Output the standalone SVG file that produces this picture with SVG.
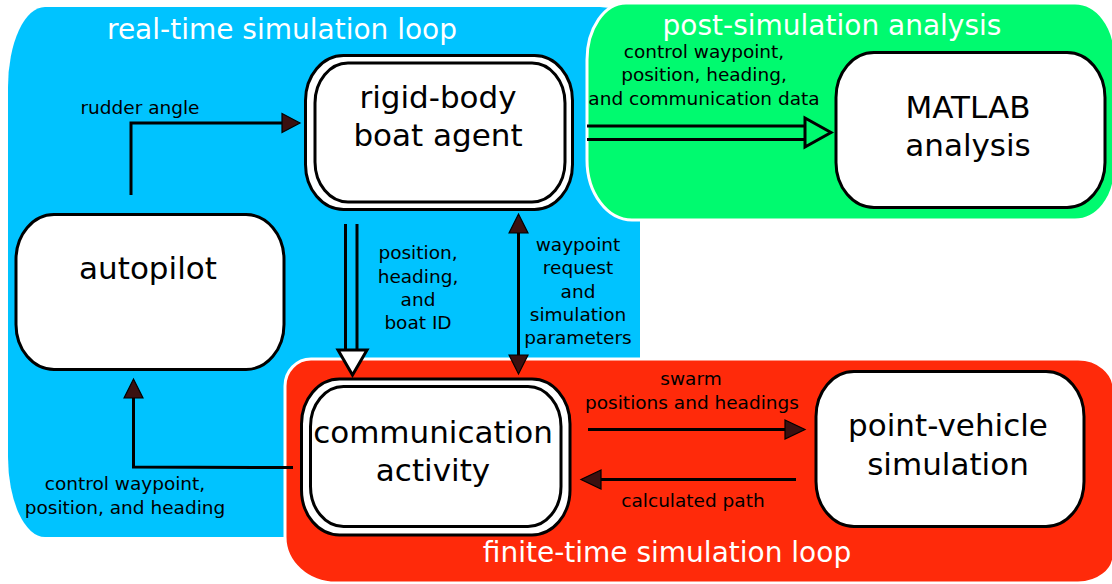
<svg xmlns="http://www.w3.org/2000/svg" width="1112" height="584" viewBox="0 0 1112 584">
<defs>
<style>
text{font-family:"DejaVu Sans","Liberation Sans",sans-serif;text-anchor:middle}
.title{font-size:28px;fill:#ffffff}
.node{font-size:31px;fill:#000}
.lbl{font-size:18.5px;fill:#000}
.box{fill:#ffffff;stroke:#000;stroke-width:3}
.ln{fill:none;stroke:#000;stroke-width:3}
.head{fill:#3a1010;stroke:#000;stroke-width:1.2}
.hollow{stroke:#000;stroke-width:3;stroke-linejoin:miter}
</style>
</defs>
<g id="regions">
<path id="real-time" d="M45,7 L600,7 A40,40 0 0 1 640,47 L640,537 L45,537 A37,80 0 0 1 8,457 L8,87 A37,80 0 0 1 45,7 Z" fill="#00c3ff"/>
<path id="post-sim" d="M626,3 L1075,3 A40,52 0 0 1 1115,55 L1115,170 A40,50 0 0 1 1075,220 L632,220 A45,60 0 0 1 587,160 L587,60 A39,57 0 0 1 626,3 Z" fill="#00fa6f" stroke="#ffffff" stroke-width="3"/>
<path id="finite-time" d="M311,359 L1078,359 A36,30 0 0 1 1114,389 L1114,555 A36,28 0 0 1 1078,583 L336,583 A51,46 0 0 1 285,537 L285,386 A26,27 0 0 1 311,359 Z" fill="#ff2a0a" stroke="#ffffff" stroke-width="3"/>
<text class="title" x="282" y="39">real-time simulation loop</text>
<text class="title" x="832" y="35">post-simulation analysis</text>
<text class="title" x="667" y="562">finite-time simulation loop</text>
</g>
<g id="connectors">
<path class="ln" d="M131,195 L131,123 L284,123"/>
<polygon class="head" points="282,113.5 300,123 282,132.5"/>
<text class="lbl" x="140" y="114">rudder angle</text>

<line class="ln" x1="587" y1="126" x2="806" y2="126"/>
<line class="ln" x1="587" y1="139.5" x2="806" y2="139.5"/>
<polygon class="hollow" fill="none" points="805,118 831,132.5 805,147"/>
<text class="lbl" x="704" y="58">control waypoint,</text>
<text class="lbl" x="704" y="81">position, heading,</text>
<text class="lbl" x="704" y="105">and communication data</text>

<line class="ln" x1="345.5" y1="224" x2="345.5" y2="351"/>
<line class="ln" x1="357" y1="224" x2="357" y2="351"/>
<polygon class="hollow" fill="#ffffff" points="338,350 367,350 352.5,375"/>
<text class="lbl" x="418" y="259">position,</text>
<text class="lbl" x="418" y="282.5">heading,</text>
<text class="lbl" x="418" y="305.5">and</text>
<text class="lbl" x="418" y="329">boat ID</text>

<line class="ln" x1="518.5" y1="230" x2="518.5" y2="357"/>
<polygon class="head" points="509,233 518.5,214 528,233"/>
<polygon class="head" points="509,355 518.5,374 528,355"/>
<text class="lbl" x="578" y="251">waypoint</text>
<text class="lbl" x="578" y="274">request</text>
<text class="lbl" x="578" y="297.5">and</text>
<text class="lbl" x="578" y="321">simulation</text>
<text class="lbl" x="578" y="344">parameters</text>

<line class="ln" x1="588" y1="429.5" x2="788" y2="429.5"/>
<polygon class="head" points="785,420 805,429.5 785,439"/>
<text class="lbl" x="691" y="385">swarm</text>
<text class="lbl" x="692" y="408.5">positions and headings</text>

<line class="ln" x1="796" y1="479.5" x2="598" y2="479.5"/>
<polygon class="head" points="601,470 581,479.5 601,489"/>
<text class="lbl" x="693" y="507">calculated path</text>

<path class="ln" d="M293,467.5 L133.5,467 L133.5,396"/>
<polygon class="head" points="124,398 133.5,379 143,398"/>
<text class="lbl" x="125" y="490">control waypoint,</text>
<text class="lbl" x="125" y="513.5">position, and heading</text>
</g>
<g id="boat-agent">
<rect class="box" x="305.5" y="55.5" width="267" height="154" rx="38" ry="45"/>
<rect class="box" x="315" y="63" width="250" height="139" rx="33" ry="40"/>
<text class="node" x="438" y="108">rigid-body</text>
<text class="node" x="438" y="146">boat agent</text>
</g>
<g id="matlab">
<rect class="box" x="836" y="52.5" width="269" height="155" rx="38" ry="45"/>
<text class="node" x="968" y="118">MATLAB</text>
<text class="node" x="968" y="156">analysis</text>
</g>
<g id="autopilot">
<rect class="box" x="16" y="214.5" width="268" height="155" rx="38" ry="45"/>
<text class="node" x="148" y="279">autopilot</text>
</g>
<g id="communication">
<rect class="box" x="301.5" y="379" width="268.5" height="156" rx="38" ry="45"/>
<rect class="box" x="310.5" y="386.5" width="250.5" height="140" rx="33" ry="40"/>
<text class="node" x="433" y="442.5">communication</text>
<text class="node" x="433" y="481">activity</text>
</g>
<g id="point-vehicle">
<rect class="box" x="816" y="371.5" width="268" height="155" rx="38" ry="45"/>
<text class="node" x="948" y="436">point-vehicle</text>
<text class="node" x="948" y="475">simulation</text>
</g>
</svg>
